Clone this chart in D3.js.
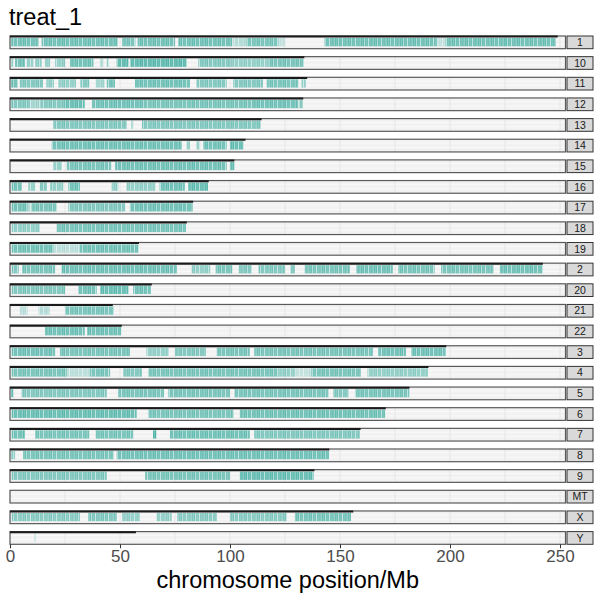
<!DOCTYPE html>
<html>
<head>
<meta charset="utf-8">
<script src="https://cdn.jsdelivr.net/npm/d3@7"></script>
<style>
  body { margin: 0; background: #fff; }
  svg { font-family: "Liberation Sans", Arial, Helvetica, sans-serif; }
</style>
</head>
<body>
<div id="chart"></div>
<script>
// chromosome facets, in the order the plot shows them
const chroms = ["1","10","11","12","13","14","15","16","17","18","19","2","20","21","22","3","4","5","6","7","8","9","MT","X","Y"];
// chromosome lengths (Mb)
const chromLen = [248.96,133.80,135.09,133.28,114.36,107.04,101.99,90.34,83.26,80.37,58.62,242.19,64.44,46.71,50.82,198.30,190.21,181.54,170.81,159.35,145.14,138.39,0.0166,156.04,57.23];
const xTicks = [0, 50, 100, 150, 200, 250];

// covered regions per chromosome: [start Mb, end Mb, density]
const seg_1  = [[0.5,12.9,0.8],[14.4,49,0.8],[51,57,0.75],[58,75,0.8],[76.5,101,0.8],[101.5,107.6,0.4],[107.6,122,0.75],[122,125,0.3],[143,194,0.8],[194,198,0.3],[198,248,0.8]];
const seg_10 = [[0.5,1.5,0.5],[2.3,6.8,0.8],[7.6,10.6,0.6],[11.4,14.4,0.6],[15.9,18.2,0.6],[20.5,25,0.6],[27.3,37.9,0.8],[40.9,42.4,0.4],[44,45,0.6],[48.5,53.8,0.9],[54.5,80.3,0.9],[85.6,100,0.7],[100,118,0.6],[118,133.5,0.75]];
const seg_11 = [[0.5,3.5,0.8],[4.5,15,0.7],[16.5,20,0.6],[22,30,0.6],[32,36,0.7],[39,43,0.5],[44,47.7,0.8],[56.8,81.8,0.8],[84.8,98.5,0.7],[101.5,115,0.7],[116.7,131,0.75],[132.5,134.5,0.6]];
const seg_12 = [[0.5,9,0.7],[9,14,0.5],[14,25,0.7],[25,34,0.85],[37.3,60,0.8],[60,90,0.75],[90,110,0.75],[110,131,0.8],[131.5,133,0.7]];
const seg_13 = [[19.7,53,0.7],[55,56,0.4],[60,114,0.7]];
const seg_14 = [[19,78,0.8],[80.3,81.8,0.6],[84.8,86.4,0.6],[87.9,98.5,0.8],[100,106,0.85]];
const seg_15 = [[19.7,23.5,0.6],[25.8,46,0.75],[47.7,98.5,0.8],[100,102,0.8]];
const seg_16 = [[0.8,5.3,0.8],[8.3,11.4,0.6],[13.6,16.7,0.7],[18.2,24.2,0.6],[26.5,31.8,0.8],[46.2,49.2,0.6],[53,66,0.6],[68,79.5,0.8],[81,90,0.85]];
const seg_17 = [[0.8,8,0.8],[8,10,0.4],[10,21.2,0.75],[26.5,52.3,0.7],[54.5,83,0.8]];
const seg_18 = [[0.8,13.6,0.6],[21.2,80,0.75]];
const seg_19 = [[0.8,19.7,0.8],[19.7,31.8,0.35],[31.8,58.3,0.8]];
const seg_2  = [[0.8,4,0.7],[5.5,20.5,0.75],[23.5,75.8,0.8],[82.6,91,0.6],[93.5,101,0.75],[104,110,0.7],[113,125,0.7],[127.5,129.5,0.7],[134,154.5,0.75],[157.5,174,0.8],[176.5,193,0.75],[196,219.7,0.75],[222.7,242,0.8]];
const seg_20 = [[0.8,25,0.7],[31,39.4,0.8],[41,53.8,0.85],[56,64,0.8]];
const seg_21 = [[4.5,8,0.35],[13,18,0.4],[25,47,0.75]];
const seg_22 = [[15.9,34,0.8],[35,50.5,0.8]];
const seg_3  = [[0.8,20.5,0.8],[22.7,54.5,0.75],[62,72,0.6],[75,89,0.7],[94,109,0.75],[111,165,0.75],[167.4,180,0.8],[182.5,198,0.8]];
const seg_4  = [[0.8,25.8,0.75],[25.8,36.4,0.35],[36.4,45.5,0.75],[51.5,60,0.7],[63,122,0.75],[122,129.5,0.6],[129.5,137,0.3],[137,159.5,0.75],[162.5,190,0.6]];
const seg_5  = [[0.5,1.5,0.8],[5.3,44,0.7],[49.2,70,0.75],[72,100,0.75],[102,144.7,0.75],[147,153.8,0.7],[156.8,181.5,0.75]];
const seg_6  = [[0.8,57.6,0.85],[63,101.5,0.75],[104.5,170.5,0.8]];
const seg_7  = [[0.8,6.8,0.8],[11.4,36,0.75],[39,56,0.75],[65,66.5,0.9],[72.7,109,0.8],[111,159,0.7]];
const seg_8  = [[0.5,2.3,0.6],[6,47,0.75],[48.5,145,0.8]];
const seg_9  = [[0.8,44,0.7],[61.4,100,0.75],[104.5,138,0.85]];
const seg_MT = [];
const seg_X  = [[0.8,31.8,0.65],[35.6,48.5,0.7],[51,59,0.6],[66.7,73.5,0.6],[76,94,0.65],[100,125.7,0.65],[129.5,155,0.75]];
const seg_Y  = [[11.2,11.6,0.5]];

const segLists = [seg_1,seg_10,seg_11,seg_12,seg_13,seg_14,seg_15,seg_16,seg_17,seg_18,seg_19,seg_2,seg_20,seg_21,seg_22,seg_3,seg_4,seg_5,seg_6,seg_7,seg_8,seg_9,seg_MT,seg_X,seg_Y];

const width = 600, height = 600;
const panelLeft = 10, panelRight = 565.5;
const stripLeft = 567, stripRight = 593;
const teal = "#1b9e8f";

const svg = d3.select("#chart").append("svg")
    .attr("width", width)
    .attr("height", height);

// thin irregular light stripes laid over the teal regions
const defs = svg.append("defs");
const pat = defs.append("pattern")
    .attr("id", "grain")
    .attr("patternUnits", "userSpaceOnUse")
    .attr("width", 13).attr("height", 30);
[[0, 1.2, 0.5], [2.2, 0.6, 0.25], [3.8, 1.4, 0.6], [6.5, 0.8, 0.35], [8.6, 1.0, 0.45], [10.8, 1.3, 0.2]].forEach(([px, pw, po]) => {
    pat.append("rect").attr("x", px).attr("y", 0).attr("width", pw).attr("height", 30)
        .attr("fill", "#fff").attr("opacity", po);
});

const x = d3.scaleLinear().domain([0, 252.5]).range([panelLeft, panelRight]);
const y = d3.scaleBand().domain(chroms).range([36, 544.3]).paddingInner(0.385).paddingOuter(0);
const bh = y.bandwidth();

// title
svg.append("text")
    .attr("x", 9).attr("y", 25)
    .attr("font-size", 23.5)
    .attr("fill", "#000")
    .text("treat_1");

chroms.forEach((c, i) => {
    const top = y(c);
    const g = svg.append("g").attr("class", "panel");

    // panel background
    g.append("rect")
        .attr("x", panelLeft).attr("y", top)
        .attr("width", panelRight - panelLeft).attr("height", bh)
        .attr("fill", "#f2f2f2");

    // faint horizontal banding
    [0.3, 0.65].forEach(f => {
        g.append("line")
            .attr("x1", panelLeft).attr("x2", panelRight)
            .attr("y1", top + bh * f).attr("y2", top + bh * f)
            .attr("stroke", "#fafafa").attr("stroke-width", 1);
    });

    // vertical grid every 25 Mb
    d3.range(0, 251, 25).forEach(v => {
        g.append("line")
            .attr("x1", x(v)).attr("x2", x(v))
            .attr("y1", top).attr("y2", top + bh)
            .attr("stroke", "#e2e2e2").attr("stroke-width", 0.8);
    });

    // covered regions
    const segs = segLists[i];
    g.selectAll("rect.seg")
        .data(segs)
        .enter().append("rect")
        .attr("class", "seg")
        .attr("x", d => x(d[0]))
        .attr("y", top + 2)
        .attr("width", d => Math.max(0.8, x(d[1]) - x(d[0])))
        .attr("height", bh - 4.5)
        .attr("fill", teal)
        .attr("opacity", d => d[2] * 0.85);
    g.selectAll("rect.grain")
        .data(segs)
        .enter().append("rect")
        .attr("class", "grain")
        .attr("x", d => x(d[0]))
        .attr("y", top + 2)
        .attr("width", d => Math.max(0.8, x(d[1]) - x(d[0])))
        .attr("height", bh - 4.5)
        .attr("fill", "url(#grain)");

    // panel border
    g.append("rect")
        .attr("x", panelLeft).attr("y", top)
        .attr("width", panelRight - panelLeft).attr("height", bh)
        .attr("fill", "none")
        .attr("stroke", "#5a5a5a").attr("stroke-width", 1.2);

    // chromosome length line
    g.append("line")
        .attr("x1", x(0)).attr("x2", x(chromLen[i]))
        .attr("y1", top + 0.6).attr("y2", top + 0.6)
        .attr("stroke", "#1a1a1a").attr("stroke-width", 2);

    // strip label
    g.append("rect")
        .attr("x", stripLeft).attr("y", top)
        .attr("width", stripRight - stripLeft).attr("height", bh)
        .attr("fill", "#d9d9d9")
        .attr("stroke", "#333").attr("stroke-width", 1);
    g.append("text")
        .attr("x", (stripLeft + stripRight) / 2)
        .attr("y", top + bh / 2)
        .attr("dy", "0.35em")
        .attr("text-anchor", "middle")
        .attr("font-size", 10.5)
        .attr("fill", "#1a1a1a")
        .text(c);
});

// x axis
const axisG = svg.append("g")
    .attr("transform", `translate(0, ${544.3})`)
    .call(d3.axisBottom(x).tickValues(xTicks).tickSize(4).tickPadding(2));
axisG.select(".domain").remove();
axisG.selectAll(".tick line").attr("stroke", "#333");
axisG.selectAll(".tick text")
    .attr("font-size", 17)
    .attr("fill", "#4d4d4d")
    .attr("font-family", "Liberation Sans, Arial, sans-serif");

svg.append("text")
    .attr("x", (panelLeft + panelRight) / 2)
    .attr("y", 588)
    .attr("text-anchor", "middle")
    .attr("font-size", 23.5)
    .attr("fill", "#000")
    .text("chromosome position/Mb");
</script>
</body>
</html>
